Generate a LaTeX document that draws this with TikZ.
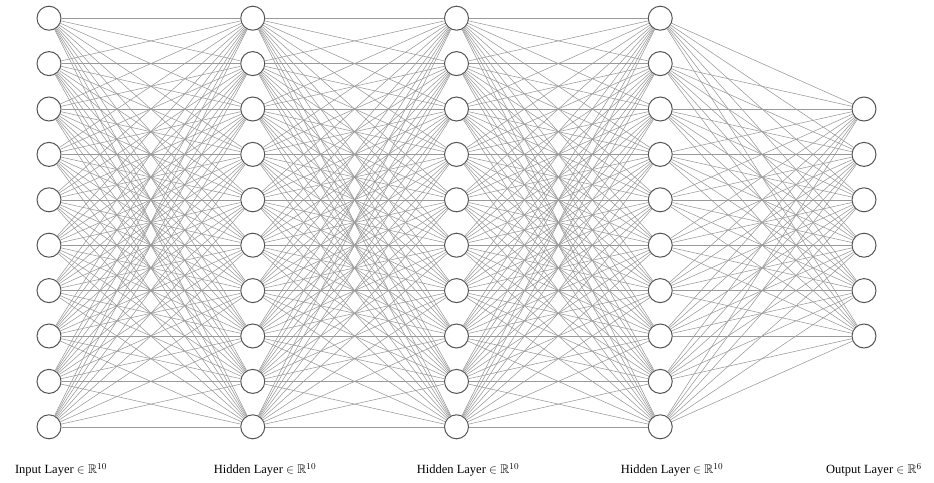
\documentclass[tikz,border=0pt]{standalone}
\usepackage{amsmath,amssymb}
\usepackage{fontspec}
\setmainfont{Liberation Serif}
\usepackage{xcolor}
\usepackage{tikz}
\usetikzlibrary{positioning,calc}
\definecolor{netEdge}{HTML}{999999}
\definecolor{netRim}{HTML}{555555}

\begin{document}
\begin{tikzpicture}[x=1pt,y=-1pt,
  neuron/.style={circle,draw=netRim,line width=1pt,fill=white,minimum size=24pt,inner sep=0pt},
  wire/.style={draw=netEdge,line width=0.55pt},
  laylabel/.style={font=\fontsize{12.5}{14}\selectfont,anchor=center}]
\useasboundingbox (0,0) rectangle (934,482);
% layers: column index / number of neurons
\foreach \l/\n in {0/10,1/10,2/10,3/10,4/6}{
  \foreach \k in {1,...,\n}{
    \node[neuron] (N\l-\k) at ({49+203.75*\l},{222.5+45.4*(\k-(\n+1)/2)}) {};
  }
}
% connections
\foreach \l/\m/\n in {0/10/10,1/10/10,2/10/10,3/10/6}{
  \pgfmathtruncatemacro{\nxt}{\l+1}
  \foreach \i in {1,...,\m}{
    \foreach \j in {1,...,\n}{
      \draw[wire] (N\l-\i) -- (N\nxt-\j);
    }
  }
}
% labels
\node[laylabel] (L0) at (61,470) {Input Layer $\in\mathbb{R}^{10}$};
\node[laylabel] (L1) at (265,470) {Hidden Layer $\in\mathbb{R}^{10}$};
\node[laylabel] (L2) at (468,470) {Hidden Layer $\in\mathbb{R}^{10}$};
\node[laylabel] (L3) at (672,470) {Hidden Layer $\in\mathbb{R}^{10}$};
\node[laylabel] (L4) at (874,470) {Output Layer $\in\mathbb{R}^{6}$};
\end{tikzpicture}
\end{document}
